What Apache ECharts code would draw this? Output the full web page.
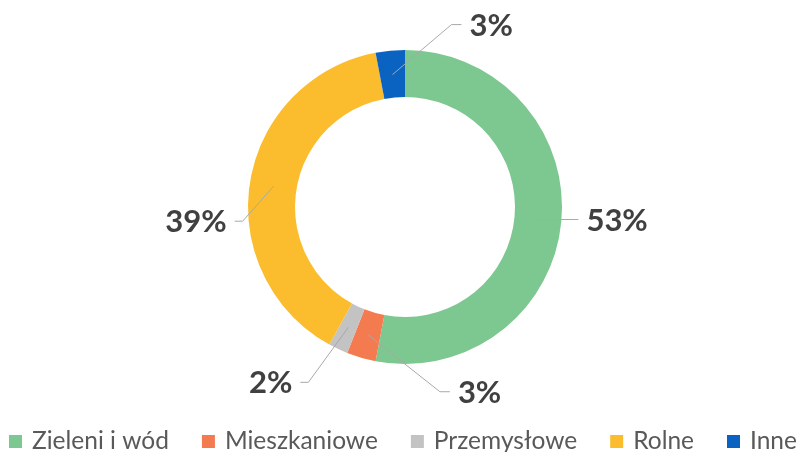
<!DOCTYPE html>
<html lang="pl" style="height: 100%">
<head>
  <meta charset="utf-8">
</head>
<body style="height: 100%; margin: 0; background: #fff">
  <div id="container" style="height: 100%"></div>

  <script type="text/javascript" src="https://cdn.jsdelivr.net/npm/echarts@6/dist/echarts.min.js"></script>

  <script type="text/javascript">
    var dom = document.getElementById('container');
    var myChart = echarts.init(dom, null, { renderer: 'canvas' });

    // data
    const categories = ['Zieleni i wód', 'Mieszkaniowe', 'Przemysłowe', 'Rolne', 'Inne'];
    const shares = [53, 3, 2, 39, 3];
    const colors = ['#7dc790', '#f47b50', '#c3c3c3', '#fbbd2e', '#0a63c0'];

    // leader line shape per slice: elbow offset from the anchor, then horizontal run
    const leaders = [
      { dx: 41, dy: 0, run: 0 },
      { dx: 72, dy: 57, run: 10 },
      { dx: -40, dy: 55, run: -8 },
      { dx: -31, dy: 35, run: -8 },
      { dx: 59, dy: -50, run: 10 }
    ];

    const pieData = categories.map(function (name, i) {
      return { name: name, value: shares[i], itemStyle: { color: colors[i] } };
    });

    const center = [405, 207];

    const option = {
      animation: false,
      legend: {
        left: 'center',
        top: 429,
        padding: 0,
        icon: 'rect',
        itemWidth: 13,
        itemHeight: 13,
        itemGap: 33,
        textStyle: {
          fontFamily: 'Lato',
          fontSize: 24.5,
          color: '#595959',
          padding: [0, 0, 0, 5]
        },
        data: categories
      },
      series: [
        {
          type: 'pie',
          center: center,
          radius: [110, 157],
          startAngle: 90,
          clockwise: true,
          silent: true,
          label: { show: false },
          labelLine: { show: false },
          data: pieData
        },
        {
          // invisible helper ring so leader lines start mid-band
          type: 'pie',
          center: center,
          radius: [0, 133],
          startAngle: 90,
          clockwise: true,
          silent: true,
          z: 5,
          itemStyle: { color: 'rgba(0,0,0,0)' },
          label: {
            show: true,
            position: 'outside',
            formatter: '{c}%',
            fontFamily: 'Lato',
            fontWeight: 'bold',
            fontSize: 31,
            color: '#404040'
          },
          labelLine: {
            show: true,
            length: 10,
            length2: 10,
            lineStyle: { color: '#a9a9a9', width: 1 }
          },
          labelLayout: function (params) {
            const l = leaders[params.dataIndex];
            const start = params.labelLinePoints[0];
            const elbow = [start[0] + l.dx, start[1] + l.dy];
            const end = [elbow[0] + l.run, elbow[1]];
            const right = l.dx >= 0;
            return {
              x: end[0] + (right ? 8 : -8),
              y: end[1] + 1,
              align: right ? 'left' : 'right',
              verticalAlign: 'middle',
              labelLinePoints: [start, elbow, end]
            };
          },
          data: pieData.map(function (d) {
            return { name: d.name, value: d.value };
          })
        }
      ]
    };

    myChart.setOption(option);
    window.addEventListener('resize', myChart.resize);
  </script>
</body>
</html>
